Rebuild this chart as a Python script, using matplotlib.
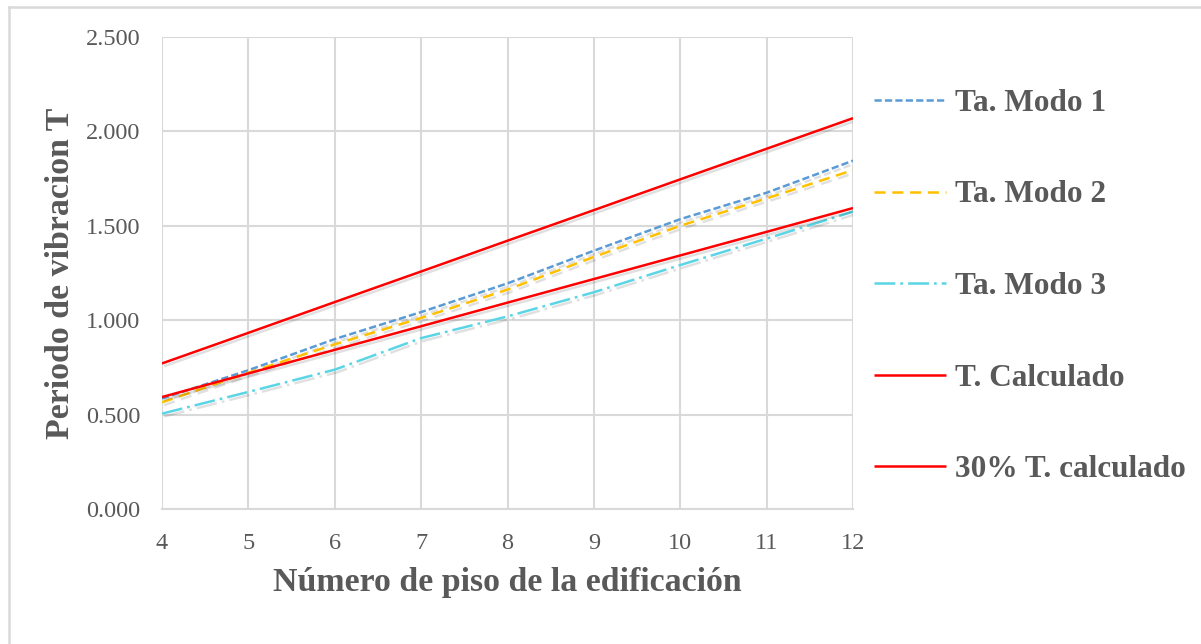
import matplotlib
matplotlib.use("Agg")
import matplotlib.pyplot as plt
import matplotlib.patheffects as pe
from matplotlib.lines import Line2D

pisos = [4, 5, 6, 7, 8, 9, 10, 11, 12]
modo1 = [0.585, 0.735, 0.900, 1.043, 1.195, 1.368, 1.535, 1.675, 1.845]
modo2 = [0.565, 0.722, 0.872, 1.012, 1.162, 1.335, 1.500, 1.645, 1.795]
modo3 = [0.505, 0.620, 0.738, 0.905, 1.020, 1.148, 1.292, 1.432, 1.575]
t_calc = [0.593, 0.718, 0.843, 0.968, 1.093, 1.218, 1.343, 1.468, 1.594]
t_30 = [0.771, 0.933, 1.096, 1.258, 1.421, 1.583, 1.746, 1.908, 2.070]
yticks = [0.0, 0.5, 1.0, 1.5, 2.0, 2.5]
ytick_labels = ["0.000", "0.500", "1.000", "1.500", "2.000", "2.500"]
labels = ["Ta. Modo 1", "Ta. Modo 2", "Ta. Modo 3", "T. Calculado", "30% T. calculado"]

plt.rcParams['font.family'] = ['Liberation Serif', 'DejaVu Serif']
plt.rcParams['lines.scale_dashes'] = False

W, H = 1201, 644
fig = plt.figure(figsize=(W / 100, H / 100), dpi=100)
ax = fig.add_axes([162 / W, 1 - 509 / H, (853 - 162) / W, (509 - 37) / H])

grid_c = '#d9d9d9'
txt_c = '#595959'
lw = 1.8
shadow = [pe.SimpleLineShadow(offset=(1.5, -2.0), shadow_color='black', alpha=0.12),
          pe.Normal()]

series = [modo1, modo2, modo3, t_calc, t_30]
colors = ['#5B9BD5', '#FFC000', '#5BD5E5', '#FF0000', '#FF0000']
dashes = [(5.2, 2.3), (8.0, 4.8), (15.0, 3.6, 2.0, 3.6), None, None]

handles = []
for ys, c, d, lab in zip(series, colors, dashes, labels):
    ln, = ax.plot(pisos, ys, color=c, lw=lw, label=lab, path_effects=shadow,
                  solid_capstyle='butt', dash_capstyle='butt', zorder=3)
    if d is not None:
        ln.set_dashes(d)
    h = Line2D([], [], color=c, lw=lw, solid_capstyle='butt', dash_capstyle='butt')
    if d is not None:
        h.set_dashes(d)
    handles.append(h)

ax.set_xlim(4, 12)
ax.set_ylim(0, 2.5)
ax.set_xticks(pisos)
ax.set_xticklabels([str(p) for p in pisos])
ax.set_yticks(yticks)
ax.set_yticklabels(ytick_labels)
ax.grid(True, color=grid_c, lw=1.5, zorder=0)
ax.set_axisbelow(True)
for s in ['top', 'right', 'left']:
    ax.spines[s].set_visible(False)
ax.spines['bottom'].set_color(grid_c)
ax.spines['bottom'].set_linewidth(1.5)
ax.tick_params(axis='both', length=0, labelsize=17.5, labelcolor=txt_c)
ax.tick_params(axis='y', pad=15.5)
ax.tick_params(axis='x', pad=17)

ax.set_xlabel("Número de piso de la edificación", fontsize=24.4, fontweight='bold',
              color=txt_c, labelpad=10)
ax.set_ylabel("Periodo de vibracion T", fontsize=24.4, fontweight='bold',
              color=txt_c, labelpad=7)

leg = fig.legend(handles, labels, loc='upper left',
                 bbox_to_anchor=(874 / W, 1 - 89 / H), frameon=False,
                 fontsize=22.5, handlelength=2.3, handletextpad=0.3,
                 labelspacing=2.0, borderaxespad=0, borderpad=0)
for t in leg.get_texts():
    t.set_color(txt_c)
    t.set_fontweight('bold')

# outer figure frame (left and top edges visible)
fig.add_artist(Line2D([9 / W, 9 / W], [0, 1 - 7 / H], color=grid_c, lw=1.8,
                      transform=fig.transFigure))
fig.add_artist(Line2D([9 / W, 1], [1 - 7 / H, 1 - 7 / H], color=grid_c, lw=1.8,
                      transform=fig.transFigure))

fig.savefig("out.png", dpi=100)
